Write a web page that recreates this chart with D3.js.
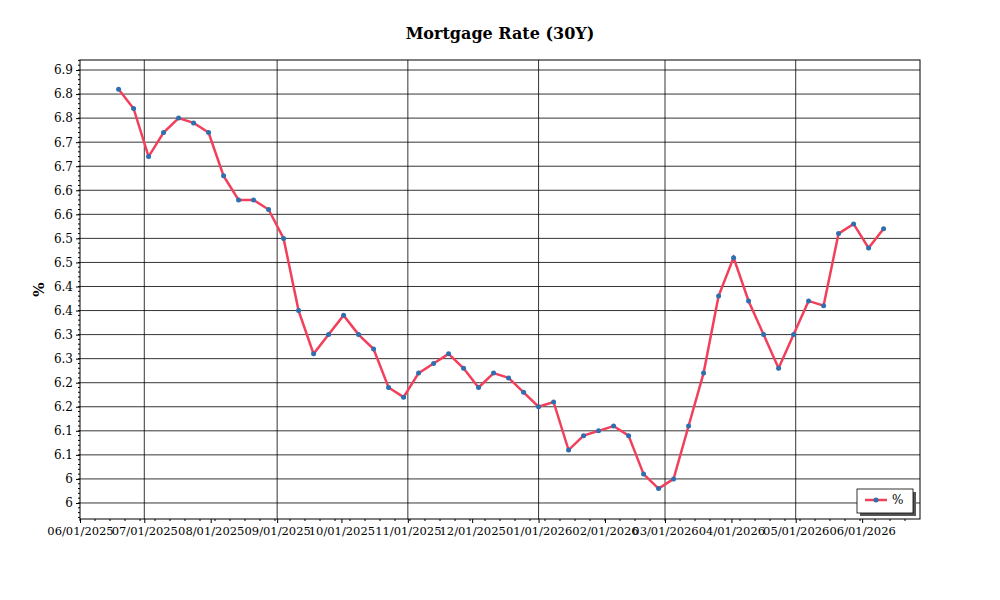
<!DOCTYPE html>
<html><head><meta charset="utf-8">
<script src="https://cdn.jsdelivr.net/npm/d3@7"></script>
<style>body{margin:0;background:#fff}text{font-family:"DejaVu Serif",serif}</style>
</head><body><svg id="c" width="1000" height="600"></svg>
<script>
const startDate = "2025-06-19";
const values = [6.86,6.82,6.72,6.77,6.80,6.79,6.77,6.68,6.63,6.63,6.61,6.55,6.40,6.31,6.35,6.39,6.35,6.32,6.24,6.22,6.27,6.29,6.31,6.28,6.24,6.27,6.26,6.23,6.20,6.21,6.11,6.14,6.15,6.16,6.14,6.06,6.03,6.05,6.16,6.27,6.43,6.51,6.42,6.35,6.28,6.35,6.42,6.41,6.56,6.58,6.53,6.57];
const yTicks = [6.0,6.05,6.1,6.15,6.2,6.25,6.3,6.35,6.4,6.45,6.5,6.55,6.6,6.65,6.7,6.75,6.8,6.85,6.9];
const yTickLabels = ["6","6","6.1","6.1","6.2","6.2","6.3","6.3","6.4","6.4","6.5","6.5","6.6","6.6","6.7","6.7","6.8","6.8","6.9"];
const xTickDates = ["2025-06-01","2025-07-01","2025-08-01","2025-09-01","2025-10-01","2025-11-01","2025-12-01","2026-01-01","2026-02-01","2026-03-01","2026-04-01","2026-05-01","2026-06-01"];
const gridDates = ["2025-07-01","2025-09-01","2025-11-01","2026-01-01","2026-03-01","2026-05-01"];
const parse = d3.utcParse("%Y-%m-%d"), fmt = d3.utcFormat("%m/%d/%Y");
const s0 = parse(startDate);
const data = values.map((v,i)=>({d:d3.utcDay.offset(s0,i*7),v}));
const L=80,R=920,T=60,B=519;
const svg=d3.select("#c");
const x=d3.scaleUtc().domain([parse("2025-06-01"),parse("2026-06-28")]).range([L,R]);
const y=d3.scaleLinear().domain([5.9667,6.9208]).range([B,T]);
svg.append("text").attr("x",500).attr("y",39).attr("text-anchor","middle").attr("font-weight","bold").attr("font-size",16).text("Mortgage Rate (30Y)");
svg.append("g").selectAll("line").data(yTicks).join("line").attr("x1",L).attr("x2",R).attr("y1",d=>y(d)).attr("y2",d=>y(d)).attr("stroke","#000").attr("stroke-width",0.8);
svg.append("g").selectAll("line").data(gridDates).join("line").attr("x1",d=>x(parse(d))).attr("x2",d=>x(parse(d))).attr("y1",T).attr("y2",B).attr("stroke","#000").attr("stroke-width",0.8);
svg.append("rect").attr("x",L).attr("y",T).attr("width",R-L).attr("height",B-T).attr("fill","none").attr("stroke","#000");
const ya=svg.append("g").attr("transform",`translate(${L},0)`).call(d3.axisLeft(y).tickValues(yTicks).tickFormat((d,i)=>yTickLabels[i]).tickSize(4));
ya.select(".domain").remove();
ya.selectAll("text").attr("font-size",12).attr("font-family","DejaVu Serif");
const yMinor=d3.range(5.97,6.92,0.01);
svg.append("g").selectAll("line").data(yMinor).join("line").attr("x1",L-2).attr("x2",L).attr("y1",d=>y(d)).attr("y2",d=>y(d)).attr("stroke","#000");
const xa=svg.append("g").attr("transform",`translate(0,${B})`).call(d3.axisBottom(x).tickValues(xTickDates.map(parse)).tickFormat(fmt).tickSize(4).tickPadding(4));
xa.select(".domain").remove();
xa.selectAll("text").attr("font-size",11.5).attr("font-family","DejaVu Serif");
svg.append("g").selectAll("line").data(d3.utcWeek.range(x.domain()[0],x.domain()[1])).join("line").attr("x1",d=>x(d)).attr("x2",d=>x(d)).attr("y1",B).attr("y2",B+2).attr("stroke","#000");
svg.append("text").attr("transform",`translate(44,${(T+B)/2}) rotate(-90)`).attr("text-anchor","middle").attr("font-weight","bold").attr("font-size",15).text("%");
svg.append("path").datum(data).attr("d",d3.line().x(d=>x(d.d)).y(d=>y(d.v))).attr("fill","none").attr("stroke","#f2405c").attr("stroke-width",2.5);
svg.append("g").selectAll("circle").data(data).join("circle").attr("cx",d=>x(d.d)).attr("cy",d=>y(d.v)).attr("r",2.5).attr("fill","#2e6fb0");
const lg=svg.append("g").attr("transform","translate(857,489)");
lg.append("rect").attr("x",3).attr("y",3).attr("width",56).attr("height",24).attr("fill","#555");
lg.append("rect").attr("width",56).attr("height",24).attr("fill","#fff").attr("stroke","#000").attr("stroke-width",0.8);
lg.append("line").attr("x1",8).attr("x2",30).attr("y1",11).attr("y2",11).attr("stroke","#f2405c").attr("stroke-width",2.5);
lg.append("circle").attr("cx",19).attr("cy",11).attr("r",2.5).attr("fill","#2e6fb0");
lg.append("text").attr("x",35).attr("y",15).attr("font-size",12).text("%");
</script></body></html>
